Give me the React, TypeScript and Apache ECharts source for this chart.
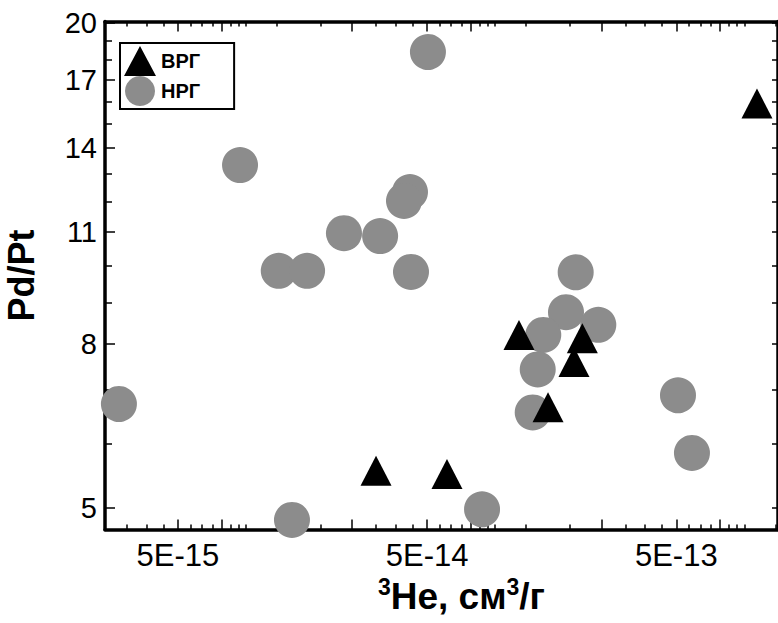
import React, { useEffect, useRef } from "react";
import * as echarts from "echarts";

// ---- data ----
const seriesNames = ["ВРГ", "НРГ"];

// НРГ (grey circles): [3He, Pd/Pt]
const nrgHe = [
  5.04e-14, 8.88e-15, 1.27e-14, 1.65e-14, 2.32e-14, 3.24e-14, 4.27e-14, 4.04e-14,
  4.31e-14, 2.9e-15, 1.435e-14, 8.31e-14, 1.974e-13, 1.805e-13, 2.433e-13,
  1.463e-13, 1.39e-13, 1.327e-13, 5.08e-13, 5.78e-13,
];
const nrgPdPt = [
  18.42, 13.33, 9.85, 9.85, 10.97, 10.88, 12.34, 12.03,
  9.82, 6.73, 4.83, 4.98, 9.81, 8.75, 8.44,
  8.2, 7.43, 6.57, 6.9, 5.85,
];

// ВРГ (black triangles)
const vrgHe = [1.169e-13, 2.099e-13, 1.943e-13, 1.529e-13, 3.12e-14, 6.01e-14, 1.054e-12];
const vrgPdPt = [8.2, 8.12, 7.59, 6.67, 5.56, 5.51, 15.9];

// axis ticks
const xLabelValues = [5e-15, 5e-14, 5e-13];
const xLabelTexts = ["5E-15", "5E-14", "5E-13"];
const xMajorTicks = [5e-15, 7.5e-15, 2.5e-14, 5e-14, 7.5e-14, 2.5e-13, 5e-13, 7.5e-13];
const xMinorTicks = [
  3.125e-15, 3.75e-15, 4.375e-15, 5.625e-15, 6.25e-15, 6.875e-15, 8.125e-15, 8.75e-15, 9.375e-15,
  1.25e-14, 1.875e-14, 3.125e-14, 3.75e-14, 4.375e-14, 5.625e-14, 6.25e-14, 6.875e-14,
  8.125e-14, 8.75e-14, 9.375e-14, 1.25e-13, 1.875e-13, 3.125e-13, 3.75e-13, 4.375e-13,
  5.625e-13, 6.25e-13, 6.875e-13, 8.125e-13, 8.75e-13, 9.375e-13, 1.25e-12,
];
const yLabelValues = [5, 8, 11, 14, 17, 20];
const yMinorTicks = [6, 7, 9, 10, 12, 13, 15, 16, 18, 19];
const yAllTicks = [5, 6, 7, 8, 9, 10, 11, 12, 13, 14, 15, 16, 17, 18, 19, 20];

const X_MIN = 2.55e-15;
const X_MAX = 1.28e-12;
const Y_MIN = 4.7;
const Y_MAX = 20.1;

const FONT = "Arial, 'Liberation Sans', sans-serif";

export default function App() {
  const ref = useRef<HTMLDivElement>(null);

  useEffect(() => {
    if (!ref.current) return;
    const chart = echarts.init(ref.current, undefined, { renderer: "svg" });

    const nrgData = nrgHe.map((x, i) => [x, nrgPdPt[i]]);
    const vrgData = vrgHe.map((x, i) => [x, vrgPdPt[i]]);

    const baseX = (extra: any) => ({
      type: "log",
      logBase: 10,
      min: X_MIN,
      max: X_MAX,
      splitLine: { show: false },
      axisLabel: { show: false },
      axisTick: { show: false },
      axisLine: { show: false },
      ...extra,
    });
    const baseY = (extra: any) => ({
      type: "log",
      logBase: 10,
      min: Y_MIN,
      max: Y_MAX,
      splitLine: { show: false },
      axisLabel: { show: false },
      axisTick: { show: false },
      axisLine: { show: false },
      ...extra,
    });

    const option: any = {
      animation: false,
      backgroundColor: "#fff",
      grid: {
        left: 105,
        right: 0,
        top: 21.5,
        bottom: 93.5,
        outerBoundsMode: "none",
        containLabel: false,
      },
      legend: {
        data: seriesNames,
        orient: "vertical",
        left: 120,
        top: 43,
        itemWidth: 32,
        itemHeight: 30,
        itemGap: 0,
        padding: [3, 34, 3, 4],
        borderColor: "#000",
        borderWidth: 2,
        backgroundColor: "#fff",
        textStyle: { fontFamily: FONT, fontSize: 20, fontWeight: "bold", color: "#000" },
      },
      xAxis: [
        baseX({
          position: "bottom",
          axisLine: { show: true, onZero: false, lineStyle: { color: "#000", width: 3.5 } },
          axisTick: {
            show: true,
            inside: true,
            length: 10,
            customValues: xMajorTicks,
            lineStyle: { color: "#000", width: 1.5 },
          },
          axisLabel: {
            show: true,
            customValues: xLabelValues,
            margin: 10,
            color: "#000",
            fontFamily: FONT,
            fontSize: 31,
            formatter: (v: number) => {
              let best = 0;
              xLabelValues.forEach((t, i) => {
                if (Math.abs(Math.log10(t) - Math.log10(v)) < Math.abs(Math.log10(xLabelValues[best]) - Math.log10(v))) best = i;
              });
              return xLabelTexts[best];
            },
          },
          name: "{sup|3}{b|He, см}{sup|3}{b|/г}",
          nameLocation: "middle",
          nameGap: 44,
          nameTextStyle: {
            fontFamily: FONT,
            fontSize: 37,
            fontWeight: "bold",
            color: "#000",
            padding: [0, 0, 0, 40],
            rich: {
              b: { fontFamily: FONT, fontSize: 37, fontWeight: "bold", color: "#000", verticalAlign: "bottom" },
              sup: { fontFamily: FONT, fontSize: 23, fontWeight: "bold", color: "#000", verticalAlign: "top", padding: [0, 0, 17, 0] },
            },
          },
        }),
        baseX({
          position: "bottom",
          axisTick: {
            show: true,
            inside: true,
            length: 5,
            customValues: xMinorTicks,
            lineStyle: { color: "#000", width: 1.5 },
          },
        }),
        baseX({
          position: "top",
          axisLine: { show: true, onZero: false, lineStyle: { color: "#000", width: 3.5 } },
          axisTick: {
            show: true,
            inside: true,
            length: 10,
            customValues: xMajorTicks,
            lineStyle: { color: "#000", width: 1.5 },
          },
        }),
        baseX({
          position: "top",
          axisTick: {
            show: true,
            inside: true,
            length: 5,
            customValues: xMinorTicks,
            lineStyle: { color: "#000", width: 1.5 },
          },
        }),
      ],
      yAxis: [
        baseY({
          position: "left",
          axisLine: { show: true, onZero: false, lineStyle: { color: "#000", width: 3.5 } },
          axisTick: {
            show: true,
            inside: true,
            length: 10,
            customValues: yLabelValues,
            lineStyle: { color: "#000", width: 1.5 },
          },
          axisLabel: {
            show: true,
            customValues: yLabelValues,
            margin: 8,
            color: "#000",
            fontFamily: FONT,
            fontSize: 29,
            formatter: (v: number) => String(Math.round(v)),
          },
          name: "Pd/Pt",
          nameLocation: "middle",
          nameGap: 66,
          nameRotate: 90,
          nameTextStyle: { fontFamily: FONT, fontSize: 36, fontWeight: "bold", color: "#000" },
        }),
        baseY({
          position: "left",
          axisTick: {
            show: true,
            inside: true,
            length: 7,
            customValues: yMinorTicks,
            lineStyle: { color: "#000", width: 1.5 },
          },
        }),
        baseY({
          position: "right",
          axisLine: { show: true, onZero: false, lineStyle: { color: "#000", width: 3.5 } },
          axisTick: {
            show: true,
            inside: true,
            length: 6,
            customValues: yAllTicks,
            lineStyle: { color: "#000", width: 1.5 },
          },
        }),
      ],
      series: [
        {
          name: "НРГ",
          type: "scatter",
          xAxisIndex: 0,
          yAxisIndex: 0,
          symbol: "circle",
          symbolSize: 36,
          itemStyle: { color: "#8c8c8c", opacity: 1 },
          data: nrgData,
          z: 2,
        },
        {
          name: "ВРГ",
          type: "scatter",
          xAxisIndex: 0,
          yAxisIndex: 0,
          symbol: "triangle",
          symbolSize: [31, 30],
          itemStyle: { color: "#000", opacity: 1 },
          data: vrgData,
          z: 3,
        },
      ],
    };

    chart.setOption(option);
    return () => chart.dispose();
  }, []);

  return (
    <div
      ref={ref}
      style={{ position: "fixed", left: 0, top: 0, width: 778, height: 623, background: "#fff" }}
    />
  );
}
